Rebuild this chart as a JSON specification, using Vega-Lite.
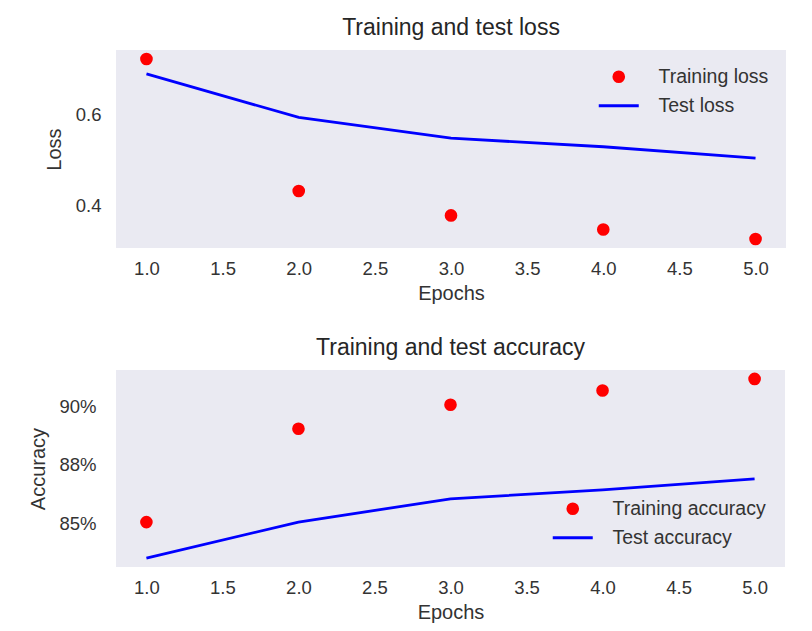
{
  "$schema": "https://vega.github.io/schema/vega-lite/v6.json",
  "background": "white",
  "padding": {"left": 28, "top": 17, "right": 5, "bottom": 5},
  "datasets": {
    "loss": [
      {"epoch": 1, "series": "Training loss", "value": 0.723},
      {"epoch": 2, "series": "Training loss", "value": 0.431},
      {"epoch": 3, "series": "Training loss", "value": 0.377},
      {"epoch": 4, "series": "Training loss", "value": 0.346},
      {"epoch": 5, "series": "Training loss", "value": 0.325},
      {"epoch": 1, "series": "Test loss", "value": 0.690},
      {"epoch": 2, "series": "Test loss", "value": 0.594},
      {"epoch": 3, "series": "Test loss", "value": 0.548},
      {"epoch": 4, "series": "Test loss", "value": 0.529},
      {"epoch": 5, "series": "Test loss", "value": 0.504}
    ],
    "acc": [
      {"epoch": 1, "series": "Training accuracy", "value": 0.8507},
      {"epoch": 2, "series": "Training accuracy", "value": 0.8904},
      {"epoch": 3, "series": "Training accuracy", "value": 0.9006},
      {"epoch": 4, "series": "Training accuracy", "value": 0.9067},
      {"epoch": 5, "series": "Training accuracy", "value": 0.9116},
      {"epoch": 1, "series": "Test accuracy", "value": 0.8354},
      {"epoch": 2, "series": "Test accuracy", "value": 0.8507},
      {"epoch": 3, "series": "Test accuracy", "value": 0.8606},
      {"epoch": 4, "series": "Test accuracy", "value": 0.8644},
      {"epoch": 5, "series": "Test accuracy", "value": 0.8691}
    ]
  },
  "columns": 1,
  "spacing": 33,
  "concat": [
    {
      "width": 670,
      "height": 198,
      "title": {"text": "Training and test loss"},
      "data": {"name": "loss"},
      "encoding": {
        "x": {"field": "epoch", "type": "quantitative", "title": "Epochs",
              "scale": {"domain": [0.8, 5.2], "nice": false, "zero": false},
              "axis": {"values": [1, 1.5, 2, 2.5, 3, 3.5, 4, 4.5, 5], "format": ".1f"}},
        "y": {"field": "value", "type": "quantitative", "title": "Loss",
              "scale": {"domain": [0.305, 0.743], "nice": false, "zero": false},
              "axis": {"values": [0.4, 0.6], "format": ".1f", "labelPadding": 15, "titlePadding": 11}},
        "color": {"field": "series", "type": "nominal",
                  "scale": {"domain": ["Training loss", "Test loss"], "range": ["#FF0000", "#0000FF"]},
                  "legend": {"orient": "top-right", "offset": 17,
                    "encode": {
                      "symbols": {
                        "update": {
                          "shape": {"signal": "datum.value === 'Test loss' ? 'stroke' : 'circle'"},
                          "size": {"signal": "datum.value === 'Test loss' ? 1600 : 160"},
                          "fill": {"signal": "datum.value === 'Test loss' ? 'transparent' : '#FF0000'"},
                          "stroke": {"signal": "datum.value === 'Test loss' ? '#0000FF' : '#FF0000'"},
                          "strokeWidth": {"signal": "datum.value === 'Test loss' ? 3 : 0"},
                          "opacity": {"value": 1}
                        }
                      }
                    }}}
      },
      "layer": [
        {"transform": [{"filter": "datum.series === 'Test loss'"}],
         "mark": {"type": "line", "strokeWidth": 2.8}},
        {"transform": [{"filter": "datum.series === 'Training loss'"}],
         "mark": {"type": "point", "filled": true, "size": 160, "opacity": 1}}
      ]
    },
    {
      "width": 669,
      "height": 197,
      "title": {"text": "Training and test accuracy"},
      "data": {"name": "acc"},
      "encoding": {
        "x": {"field": "epoch", "type": "quantitative", "title": "Epochs",
              "scale": {"domain": [0.8, 5.2], "nice": false, "zero": false},
              "axis": {"values": [1, 1.5, 2, 2.5, 3, 3.5, 4, 4.5, 5], "format": ".1f"}},
        "y": {"field": "value", "type": "quantitative", "title": "Accuracy",
              "scale": {"domain": [0.8316, 0.9154], "nice": false, "zero": false},
              "axis": {"values": [0.85, 0.875, 0.9], "format": ".0%", "labelPadding": 20, "titlePadding": 10}},
        "color": {"field": "series", "type": "nominal",
                  "scale": {"domain": ["Training accuracy", "Test accuracy"], "range": ["#FF0000", "#0000FF"]},
                  "legend": {"orient": "bottom-right", "offset": 19,
                    "encode": {
                      "symbols": {
                        "update": {
                          "shape": {"signal": "datum.value === 'Test accuracy' ? 'stroke' : 'circle'"},
                          "size": {"signal": "datum.value === 'Test accuracy' ? 1600 : 160"},
                          "fill": {"signal": "datum.value === 'Test accuracy' ? 'transparent' : '#FF0000'"},
                          "stroke": {"signal": "datum.value === 'Test accuracy' ? '#0000FF' : '#FF0000'"},
                          "strokeWidth": {"signal": "datum.value === 'Test accuracy' ? 3 : 0"},
                          "opacity": {"value": 1}
                        }
                      }
                    }}}
      },
      "layer": [
        {"transform": [{"filter": "datum.series === 'Test accuracy'"}],
         "mark": {"type": "line", "strokeWidth": 2.8}},
        {"transform": [{"filter": "datum.series === 'Training accuracy'"}],
         "mark": {"type": "point", "filled": true, "size": 160, "opacity": 1}}
      ]
    }
  ],
  "resolve": {"scale": {"color": "independent"}, "legend": {"color": "independent"}},
  "config": {
    "font": "Liberation Sans",
    "view": {"fill": "#EAEAF2", "stroke": null},
    "axis": {
      "grid": false, "domain": false, "ticks": false, "tickSize": 0,
      "labelFontSize": 18.5, "labelColor": "#333333", "labelPadding": 11,
      "titleFontSize": 20, "titleFontWeight": "normal", "titleColor": "#333333", "titlePadding": 6
    },
    "title": {"fontSize": 23, "fontWeight": "normal", "color": "#262626", "offset": 10},
    "legend": {
      "title": null, "padding": 0, "labelFontSize": 19.5, "labelColor": "#333333",
      "symbolSize": 1600, "labelOffset": 30, "rowPadding": 8,
      "symbolStrokeWidth": 3,
      "symbolOpacity": 1,
      "labelLimit": 300
    }
  }
}
